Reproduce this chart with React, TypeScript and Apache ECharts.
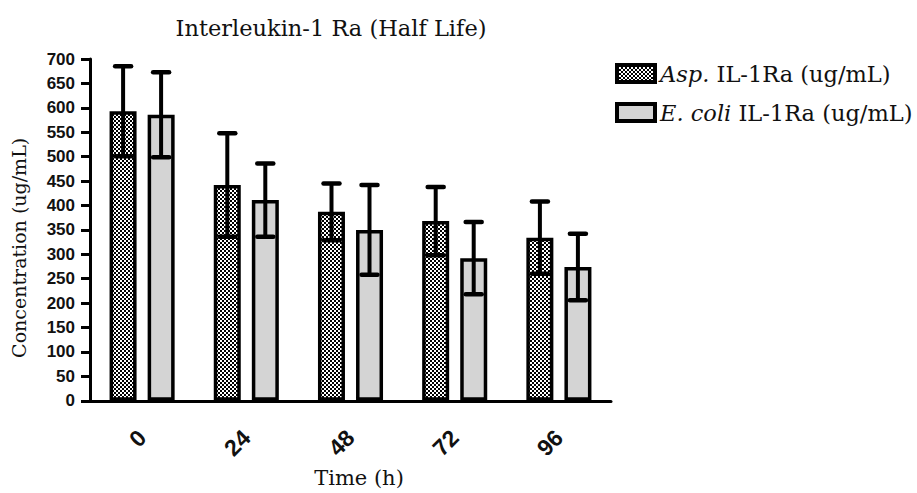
import React, { useEffect, useRef } from "react";
import * as echarts from "echarts";

const categories = ["0", "24", "48", "72", "96"];
const aspName = "Asp. IL-1Ra (ug/mL)";
const ecoliName = "E. coli IL-1Ra (ug/mL)";
const aspMeans = [593, 442, 387, 368, 334];
const aspErr = [92, 106, 58, 70, 74];
const ecoliMeans = [586, 411, 350, 292, 274];
const ecoliErr = [87, 75, 92, 74, 68];
const yMin = 0;
const yMax = 700;
const yStep = 50;

const SERIF = "DejaVu Serif";
const SANS = "Liberation Sans";

function makePattern() {
  const c = document.createElement("canvas");
  c.width = 4;
  c.height = 4;
  const ctx = c.getContext("2d")!;
  ctx.fillStyle = "#000";
  ctx.fillRect(0, 0, 4, 4);
  ctx.fillStyle = "#fff";
  ctx.fillRect(0, 0, 2, 2);
  ctx.fillRect(2, 2, 2, 2);
  return c;
}

function errRenderer(offset: number) {
  return (params: any, api: any) => {
    const idx = api.value(0);
    const lo = api.coord([idx, api.value(1)]);
    const hi = api.coord([idx, api.value(2)]);
    const x = lo[0] + offset;
    const style = { stroke: "#000", lineWidth: 4 };
    return {
      type: "group",
      children: [
        { type: "line", shape: { x1: x, y1: hi[1], x2: x, y2: lo[1] }, style },
        { type: "line", shape: { x1: x - 8, y1: hi[1], x2: x + 8, y2: hi[1] }, style: { ...style, lineWidth: 4.5, lineCap: "round" } },
        { type: "line", shape: { x1: x - 8, y1: lo[1], x2: x + 8, y2: lo[1] }, style: { ...style, lineWidth: 4.5, lineCap: "round" } },
      ],
    };
  };
}

export default function App() {
  const ref = useRef<HTMLDivElement>(null);
  useEffect(() => {
    if (!ref.current) return;
    const chart = echarts.init(ref.current, null, { renderer: "svg" });
    const pattern = { image: makePattern(), repeat: "repeat" };
    const aspErrData = categories.map((_, i) => [i, aspMeans[i] - aspErr[i], aspMeans[i] + aspErr[i]]);
    const ecoliErrData = categories.map((_, i) => [i, ecoliMeans[i] - ecoliErr[i], ecoliMeans[i] + ecoliErr[i]]);
    const option: any = {
      animation: false,
      backgroundColor: "#fff",
      title: {
        text: "Interleukin-1 Ra (Half Life)",
        left: 331,
        top: 16,
        textAlign: "center",
        padding: 0,
        textStyle: { fontFamily: SERIF, fontWeight: "normal", fontSize: 22.5, color: "#111" },
      },
      legend: {
        data: [aspName, ecoliName],
        orient: "vertical",
        left: 615,
        top: 62,
        padding: 0,
        itemWidth: 38,
        itemHeight: 17,
        itemGap: 16,
        icon: "rect",
        itemStyle: { borderColor: "#000", borderWidth: 4 },
        formatter: (name: string) =>
          name === aspName ? "{i|Asp.} IL-1Ra (ug/mL)" : "{i|E. coli} IL-1Ra (ug/mL)",
        textStyle: {
          fontFamily: SERIF,
          fontSize: 22.5,
          lineHeight: 22,
          color: "#111",
          rich: { i: { fontFamily: SERIF, fontSize: 22.5, lineHeight: 22, fontStyle: "italic", color: "#111" } },
        },
      },
      grid: { left: 90, right: 306, top: 59, bottom: 87, containLabel: false },
      xAxis: {
        type: "category",
        data: categories,
        name: "Time (h)",
        nameLocation: "middle",
        nameGap: 64,
        nameTextStyle: { fontFamily: SERIF, fontSize: 21, color: "#111", padding: [0, 0, 0, 17] },
        axisLine: { lineStyle: { color: "#000", width: 3 } },
        axisTick: { alignWithLabel: true, length: 9, lineStyle: { color: "#000", width: 3 } },
        axisLabel: {
          rotate: 45,
          margin: 33,
          fontFamily: SANS,
          fontWeight: "bold",
          fontSize: 23,
          color: "#111",
        },
      },
      yAxis: {
        type: "value",
        min: yMin,
        max: yMax,
        interval: yStep,
        name: "Concentration (ug/mL)",
        nameLocation: "middle",
        nameGap: 62,
        nameTextStyle: { fontFamily: SERIF, fontSize: 19, color: "#111", padding: [0, 36, 0, 0] },
        splitLine: { show: false },
        axisLine: { show: true, lineStyle: { color: "#000", width: 3 } },
        axisTick: { show: true, length: 9, lineStyle: { color: "#000", width: 3 } },
        axisLabel: { margin: 15, fontFamily: SANS, fontWeight: "bold", fontSize: 17, color: "#111" },
      },
      series: [
        {
          type: "bar",
          name: aspName,
          data: aspMeans,
          barWidth: 27,
          barGap: "41%",
          itemStyle: { color: pattern, borderColor: "#000", borderWidth: 3.5 },
        },
        {
          type: "bar",
          name: ecoliName,
          data: ecoliMeans,
          barWidth: 27,
          itemStyle: { color: "#d4d4d4", borderColor: "#000", borderWidth: 3.5 },
        },
        {
          type: "custom",
          name: "aspErr",
          data: aspErrData,
          encode: { x: 0, y: [1, 2] },
          renderItem: errRenderer(-19),
          z: 5,
        },
        {
          type: "custom",
          name: "ecoliErr",
          data: ecoliErrData,
          encode: { x: 0, y: [1, 2] },
          renderItem: errRenderer(19),
          z: 5,
        },
      ],
    };
    chart.setOption(option);
    return () => chart.dispose();
  }, []);
  return <div ref={ref} style={{ position: "fixed", left: 0, top: 0, width: 917, height: 493 }} />;
}
